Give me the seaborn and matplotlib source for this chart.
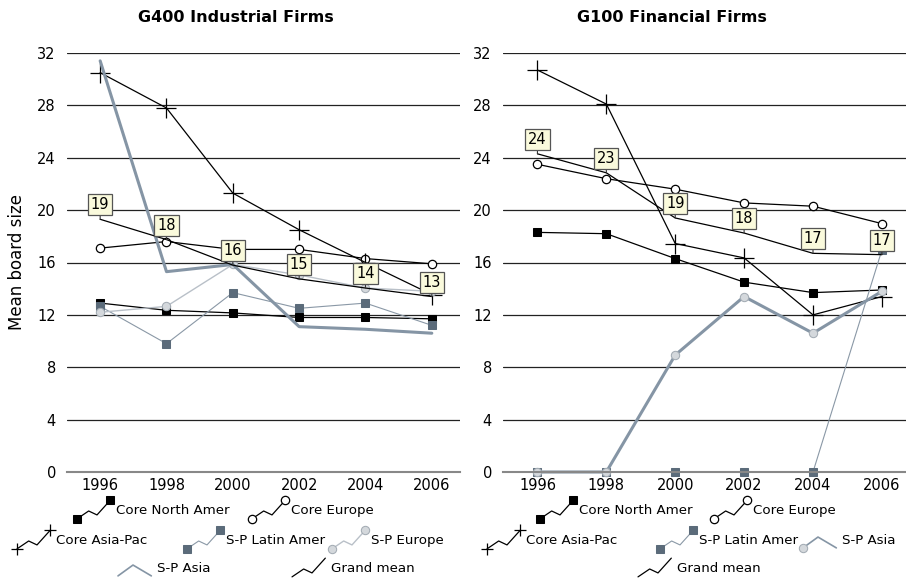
import numpy as np
import pandas as pd
import seaborn as sns
import matplotlib.pyplot as plt
from matplotlib.lines import Line2D
from matplotlib.legend_handler import HandlerBase

years = [1996, 1998, 2000, 2002, 2004, 2006]

# G400 Industrial Firms
ind_core_na = [12.9, 12.35, 12.15, 11.8, 11.8, 11.7]
ind_core_eu = [17.1, 17.6, 17.0, 17.0, 16.3, 15.9]
ind_core_ap = [30.5, 27.8, 21.3, 18.5, 16.0, 13.55]
ind_sp_latam = [12.65, 9.8, 13.7, 12.5, 12.9, 11.2]
ind_sp_eu = [12.2, 12.65, 15.85, 15.05, 14.05, 13.8]
ind_sp_asia = [31.4, 15.3, 15.85, 11.1, 10.9, 10.6]
ind_grand = [19.3, 17.75, 15.8, 14.75, 14.05, 13.4]

# G100 Financial Firms
fin_core_na = [18.3, 18.2, 16.3, 14.5, 13.7, 13.9]
fin_core_eu = [23.5, 22.4, 21.6, 20.55, 20.3, 18.97]
fin_core_ap = [30.7, 28.1, 17.45, 16.35, 12.0, 13.4]
fin_sp_latam = [0, 0, 0, 0, 0, 16.95]
fin_sp_asia = [0, 0, 8.93, 13.4, 10.6, 13.8]
fin_grand = [24.3, 22.85, 19.4, 18.25, 16.7, 16.6]

sns.set_style("white")
plt.rcParams['font.family'] = ['DejaVu Sans']
plt.rcParams['text.color'] = 'black'
plt.rcParams['axes.labelcolor'] = 'black'
plt.rcParams['xtick.color'] = 'black'
plt.rcParams['ytick.color'] = 'black'

SLATE = '#5b6b7a'
ASIA = '#8595a5'
LIGHT = '#b9c0c8'
SPHERE_FC = '#d4d8dc'
SPHERE_EC = '#a4acb4'

styles = {
    'Core North Amer': dict(color='black', lw=0.9, marker='s', markersize=6,
                            markerfacecolor='black', markeredgecolor='black'),
    'Core Europe': dict(color='black', lw=0.9, marker='o', markersize=6,
                        markerfacecolor='white', markeredgecolor='black', markeredgewidth=0.9),
    'Core Asia-Pac': dict(color='black', lw=0.9, marker='+', markersize=14,
                          markeredgecolor='black', markeredgewidth=0.9),
    'S-P Latin Amer': dict(color='#8a98a6', lw=0.8, marker='s', markersize=6,
                           markerfacecolor=SLATE, markeredgecolor=SLATE),
    'S-P Europe': dict(color=LIGHT, lw=1.0, marker='o', markersize=6,
                       markerfacecolor=SPHERE_FC, markeredgecolor=SPHERE_EC),
    'S-P Asia': dict(color=ASIA, lw=2.2),
    'S-P Asia sphere': dict(color=ASIA, lw=2.2, marker='o', markersize=6,
                            markerfacecolor=SPHERE_FC, markeredgecolor=SPHERE_EC),
    'Grand mean': dict(color='black', lw=0.9),
}


class ZigzagHandler(HandlerBase):
    def __init__(self, shape='zig'):
        super().__init__()
        self.shape = shape

    def create_artists(self, legend, orig, xdescent, ydescent, width, height, fontsize, trans):
        if self.shape == 'peak':
            fx, fy, ends = [0, 0.45, 1], [0.1, 0.65, 0.1], [0]
        else:
            fx, fy, ends = [0, 0.35, 0.6, 1], [0.05, 0.45, 0.25, 1.0], [0, 3]
        xs = np.array(fx) * width - xdescent
        ys = np.array(fy) * height - ydescent
        ln = Line2D(xs, ys, color=orig.get_color(), lw=min(orig.get_linewidth(), 1.2))
        ln.set_transform(trans)
        arts = [ln]
        if orig.get_marker() not in (None, 'None', ''):
            mk = Line2D(xs[ends], ys[ends], ls='none', marker=orig.get_marker(),
                        markersize=orig.get_markersize() * (0.6 if orig.get_marker() == '+' else 1),
                        markerfacecolor=orig.get_markerfacecolor(),
                        markeredgecolor=orig.get_markeredgecolor(),
                        markeredgewidth=orig.get_markeredgewidth())
            mk.set_transform(trans)
            arts.append(mk)
        return arts


fig = plt.figure(figsize=(9.06, 5.81), dpi=100)
W, H = 906, 581
ax1 = fig.add_axes([67 / W, 1 - 472 / H, 393 / W, 419 / H])
ax2 = fig.add_axes([503 / W, 1 - 472 / H, 403 / W, 419 / H])

panels = [
    (ax1, [('Core North Amer', ind_core_na, 'Core North Amer'),
           ('Core Europe', ind_core_eu, 'Core Europe'),
           ('Core Asia-Pac', ind_core_ap, 'Core Asia-Pac'),
           ('S-P Latin Amer', ind_sp_latam, 'S-P Latin Amer'),
           ('S-P Europe', ind_sp_eu, 'S-P Europe'),
           ('S-P Asia', ind_sp_asia, 'S-P Asia'),
           ('Grand mean', ind_grand, 'Grand mean')], ind_grand, 2006.85),
    (ax2, [('Core North Amer', fin_core_na, 'Core North Amer'),
           ('Core Europe', fin_core_eu, 'Core Europe'),
           ('Core Asia-Pac', fin_core_ap, 'Core Asia-Pac'),
           ('S-P Latin Amer', fin_sp_latam, 'S-P Latin Amer'),
           ('S-P Asia', fin_sp_asia, 'S-P Asia sphere'),
           ('Grand mean', fin_grand, 'Grand mean')], fin_grand, 2006.7),
]

handles = []
for ax, series, grand, xmax in panels:
    hd = {}
    for name, vals, sty in series:
        df = pd.DataFrame({'year': years, 'value': vals})
        sns.lineplot(data=df, x='year', y='value', ax=ax, label=name,
                     clip_on=False, **styles[sty])
    for ln in ax.get_lines():
        hd[ln.get_label()] = ln
    if ax.get_legend() is not None:
        ax.get_legend().remove()
    handles.append(hd)

    for x, v in zip(years, grand):
        ax.annotate(f"{v:.0f}", xy=(x, v), xytext=(0, 5), textcoords='offset points',
                    ha='center', va='bottom', fontsize=10.5,
                    bbox=dict(boxstyle='square,pad=0.2', fc='#fafadc', ec='#555555', lw=0.9),
                    arrowprops=dict(arrowstyle='-', color='#333333', lw=0.8,
                                    shrinkA=0, shrinkB=0))

    ax.set_xlim(1995, xmax)
    ax.set_ylim(0, 32)
    ax.set_xticks(years)
    ax.set_yticks(range(0, 33, 4))
    ax.yaxis.grid(True, color='#222222', lw=0.9)
    ax.set_axisbelow(True)
    for s in ['top', 'right', 'left']:
        ax.spines[s].set_visible(False)
    ax.spines['bottom'].set_color('#888888')
    ax.spines['bottom'].set_linewidth(1.5)
    ax.tick_params(axis='both', length=0, labelsize=10.5)
    ax.tick_params(axis='x', pad=4)
    ax.tick_params(axis='y', pad=8)
    ax.set_xlabel('')
    ax.set_ylabel('')

ax1.set_ylabel('Mean board size', fontsize=12, labelpad=8)

fig.text(236 / W, 1 - 18 / H, 'G400 Industrial Firms', ha='center', va='center',
         fontsize=11.5, fontweight='bold')
fig.text(672 / W, 1 - 18 / H, 'G100 Financial Firms', ha='center', va='center',
         fontsize=11.5, fontweight='bold')

# legend entries: (panel index, label, handle-left x px, centre y px, shape)
legend_layout = [
    (0, 'Core North Amer', 77, 510, 'zig'),
    (0, 'Core Europe', 252, 510, 'zig'),
    (0, 'Core Asia-Pac', 17, 540, 'zig'),
    (0, 'S-P Latin Amer', 187, 540, 'zig'),
    (0, 'S-P Europe', 332, 540, 'zig'),
    (0, 'S-P Asia', 118, 568, 'peak'),
    (0, 'Grand mean', 292, 568, 'zig'),
    (1, 'Core North Amer', 540, 510, 'zig'),
    (1, 'Core Europe', 714, 510, 'zig'),
    (1, 'Core Asia-Pac', 487, 540, 'zig'),
    (1, 'S-P Latin Amer', 660, 540, 'zig'),
    (1, 'S-P Asia', 803, 540, 'peak'),
    (1, 'Grand mean', 638, 568, 'zig'),
]
for p, label, xl, yc, shape in legend_layout:
    h = handles[p][label]
    fig.legend([h], [label], loc='center left', bbox_to_anchor=(xl / W, 1 - yc / H),
               frameon=False, fontsize=9.6, handlelength=2.5, handleheight=1.9,
               handletextpad=0.4, borderpad=0, borderaxespad=0,
               handler_map={h: ZigzagHandler(shape)})

fig.savefig('out.png', dpi=100, facecolor='white')
